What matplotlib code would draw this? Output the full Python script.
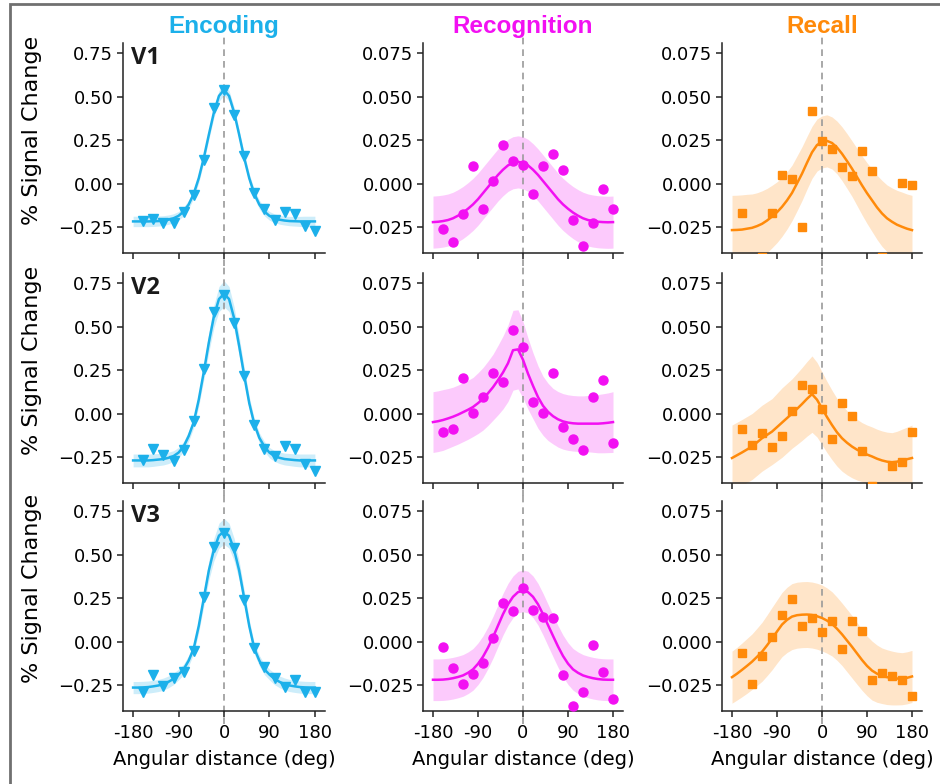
import matplotlib
matplotlib.use("Agg")
import matplotlib.pyplot as plt
from matplotlib.patches import Rectangle

# angular bins of the data points and the grid the fits / bands were read on
X_PTS = [-160, -140, -120, -100, -80, -60, -40, -20, 0, 20, 40, 60, 80, 100, 120, 140, 160, 180]
X_FIT = list(range(-180, 181, 10))

CONDITIONS = ["Encoding", "Recognition", "Recall"]
AREAS = ["V1", "V2", "V3"]
COLORS = ["#1CB0EA", "#F210F2", "#FF8A0A"]
MARKERS = ["v", "o", "s"]
XTICKS = [-180, -90, 0, 90, 180]
XTICKLABELS = ["-180", "-90", "0", "90", "180"]

# ---- Encoding ----
ENC_V1_PTS = [-0.215, -0.205, -0.230, -0.226, -0.165, -0.067, 0.138, 0.437, 0.540, 0.393,
              0.157, -0.052, -0.144, -0.211, -0.165, -0.176, -0.243, -0.272]
ENC_V1_FIT = [-0.218, -0.218, -0.218, -0.218, -0.217, -0.216, -0.213, -0.208, -0.200, -0.186,
              -0.161, -0.121, -0.059, 0.031, 0.148, 0.282, 0.410, 0.505, 0.540, 0.505,
              0.410, 0.282, 0.148, 0.031, -0.059, -0.121, -0.161, -0.186, -0.200, -0.208,
              -0.213, -0.216, -0.217, -0.218, -0.218, -0.218, -0.218]
ENC_V1_HW = [0.030, 0.030, 0.030, 0.030, 0.030, 0.029, 0.028, 0.027, 0.026, 0.025,
             0.025, 0.025, 0.025, 0.026, 0.027, 0.028, 0.030, 0.031, 0.032, 0.031,
             0.030, 0.028, 0.027, 0.026, 0.025, 0.025, 0.025, 0.025, 0.025, 0.026,
             0.026, 0.027, 0.028, 0.029, 0.030, 0.030, 0.030]

ENC_V2_PTS = [-0.269, -0.203, -0.241, -0.273, -0.212, -0.042, 0.254, 0.584, 0.684, 0.524,
              0.216, -0.067, -0.203, -0.244, -0.188, -0.203, -0.293, -0.331]
ENC_V2_FIT = [-0.270, -0.270, -0.270, -0.270, -0.268, -0.265, -0.262, -0.255, -0.245, -0.225,
              -0.190, -0.130, -0.050, 0.080, 0.240, 0.410, 0.560, 0.660, 0.690, 0.660,
              0.550, 0.390, 0.220, 0.060, -0.060, -0.140, -0.190, -0.225, -0.245, -0.255,
              -0.262, -0.265, -0.268, -0.270, -0.270, -0.270, -0.270]
ENC_V2_HW = [0.037, 0.037, 0.037, 0.037, 0.036, 0.035, 0.034, 0.033, 0.031, 0.030,
             0.029, 0.029, 0.031, 0.037, 0.045, 0.055, 0.065, 0.072, 0.075, 0.072,
             0.065, 0.055, 0.045, 0.037, 0.031, 0.029, 0.029, 0.030, 0.031, 0.033,
             0.034, 0.035, 0.036, 0.037, 0.037, 0.037, 0.037]

ENC_V3_PTS = [-0.290, -0.190, -0.256, -0.212, -0.176, -0.057, 0.258, 0.544, 0.627, 0.538,
              0.240, -0.038, -0.146, -0.208, -0.259, -0.223, -0.290, -0.290]
ENC_V3_FIT = [-0.265, -0.265, -0.264, -0.262, -0.258, -0.253, -0.245, -0.232, -0.215, -0.190,
              -0.160, -0.110, -0.040, 0.090, 0.250, 0.410, 0.530, 0.610, 0.635, 0.610,
              0.530, 0.410, 0.250, 0.090, -0.040, -0.110, -0.160, -0.190, -0.215, -0.232,
              -0.245, -0.253, -0.258, -0.262, -0.264, -0.265, -0.265]
ENC_V3_HW = [0.035, 0.035, 0.035, 0.035, 0.035, 0.035, 0.035, 0.034, 0.033, 0.031,
             0.030, 0.030, 0.030, 0.036, 0.045, 0.055, 0.065, 0.072, 0.075, 0.072,
             0.065, 0.055, 0.045, 0.036, 0.030, 0.030, 0.030, 0.031, 0.033, 0.034,
             0.035, 0.035, 0.035, 0.035, 0.035, 0.035, 0.035]

# ---- Recognition ----
REC_V1_PTS = [-0.0264, -0.0339, -0.0178, 0.0102, -0.0144, 0.0013, 0.0224, 0.0128, 0.0105, -0.0061,
              0.0100, 0.0169, 0.0077, -0.0211, -0.0358, -0.0226, -0.0034, -0.0149]
REC_V1_FIT = [-0.0222, -0.0220, -0.0216, -0.0210, -0.0200, -0.0185, -0.0167, -0.0145, -0.0120, -0.0090,
              -0.0055, -0.0020, 0.0015, 0.0050, 0.0080, 0.0105, 0.0120, 0.0125, 0.0120, 0.0105,
              0.0080, 0.0050, 0.0015, -0.0020, -0.0055, -0.0090, -0.0120, -0.0145, -0.0167, -0.0185,
              -0.0200, -0.0210, -0.0216, -0.0220, -0.0222, -0.0223, -0.0222]
REC_V1_HW = [0.015] * 37

REC_V2_PTS = [-0.0108, -0.0091, 0.0205, 0.0006, 0.0095, 0.0231, 0.0184, 0.0482, 0.0385, 0.0066,
              0.0006, 0.0233, -0.0080, -0.0148, -0.0209, 0.0095, 0.0194, -0.0171]
REC_V2_FIT = [-0.0049, -0.0044, -0.0037, -0.0028, -0.0018, -0.0006, 0.0008, 0.0022, 0.0038, 0.0060,
              0.0085, 0.0117, 0.0152, 0.0193, 0.0237, 0.0290, 0.0365, 0.0370, 0.0310, 0.0230,
              0.0160, 0.0095, 0.0045, 0.0010, -0.0015, -0.0033, -0.0045, -0.0052, -0.0056, -0.0058,
              -0.0058, -0.0058, -0.0058, -0.0058, -0.0056, -0.0053, -0.0049]
REC_V2_HW = [0.0175, 0.0175, 0.0175, 0.0172, 0.0170, 0.0170, 0.0170, 0.0170, 0.0170, 0.0175,
             0.0180, 0.0185, 0.0190, 0.0200, 0.0210, 0.0220, 0.0230, 0.0228, 0.0220, 0.0205,
             0.0190, 0.0180, 0.0170, 0.0165, 0.0160, 0.0160, 0.0160, 0.0160, 0.0160, 0.0160,
             0.0160, 0.0162, 0.0165, 0.0168, 0.0170, 0.0172, 0.0175]

REC_V3_PTS = [-0.0030, -0.0153, -0.0244, -0.0186, -0.0121, 0.0021, 0.0220, 0.0174, 0.0307, 0.0184,
              0.0144, 0.0136, -0.0195, -0.0371, -0.0288, -0.0019, -0.0178, -0.0333]
REC_V3_FIT = [-0.0220, -0.0220, -0.0219, -0.0216, -0.0211, -0.0204, -0.0195, -0.0180, -0.0160, -0.0128,
              -0.0087, -0.0035, 0.0025, 0.0092, 0.0158, 0.0215, 0.0258, 0.0285, 0.0292, 0.0285,
              0.0258, 0.0215, 0.0158, 0.0095, 0.0033, -0.0028, -0.0083, -0.0127, -0.0160, -0.0180,
              -0.0195, -0.0204, -0.0211, -0.0216, -0.0219, -0.0220, -0.0220]
REC_V3_HW = [0.012] * 37

# ---- Recall ----
RCL_V1_PTS = [-0.0167, -0.0480, -0.0425, -0.0167, 0.0052, 0.0027, -0.0253, 0.0421, 0.0243, 0.0201,
              0.0096, 0.0044, 0.0186, 0.0071, -0.0425, -0.0500, 0.0004, -0.0011]
RCL_V1_FIT = [-0.0268, -0.0267, -0.0265, -0.0260, -0.0255, -0.0245, -0.0232, -0.0213, -0.0190, -0.0165,
              -0.0134, -0.0097, -0.0054, 0.0001, 0.0057, 0.0120, 0.0180, 0.0222, 0.0240, 0.0246,
              0.0234, 0.0208, 0.0172, 0.0130, 0.0086, 0.0038, -0.0010, -0.0055, -0.0096, -0.0137,
              -0.0172, -0.0200, -0.0220, -0.0237, -0.0249, -0.0260, -0.0268]
RCL_V1_HW = [0.0200, 0.0200, 0.0200, 0.0198, 0.0195, 0.0192, 0.0190, 0.0185, 0.0180, 0.0175,
             0.0170, 0.0165, 0.0160, 0.0158, 0.0155, 0.0152, 0.0150, 0.0150, 0.0150, 0.0150,
             0.0150, 0.0152, 0.0155, 0.0158, 0.0160, 0.0165, 0.0170, 0.0175, 0.0180, 0.0185,
             0.0190, 0.0192, 0.0195, 0.0198, 0.0200, 0.0200, 0.0200]

RCL_V2_PTS = [-0.0089, -0.0180, -0.0112, -0.0195, -0.0127, 0.0015, 0.0167, 0.0142, 0.0025, -0.0146,
              0.0063, -0.0013, -0.0218, -0.0415, -0.0500, -0.0304, -0.0277, -0.0108]
RCL_V2_FIT = [-0.0256, -0.0240, -0.0224, -0.0207, -0.0190, -0.0166, -0.0142, -0.0123, -0.0104, -0.0078,
              -0.0052, -0.0026, 0.0000, 0.0027, 0.0055, 0.0085, 0.0112, 0.0080, 0.0030, -0.0020,
              -0.0066, -0.0108, -0.0142, -0.0168, -0.0190, -0.0208, -0.0222, -0.0236, -0.0247, -0.0260,
              -0.0270, -0.0277, -0.0280, -0.0277, -0.0270, -0.0263, -0.0256]
RCL_V2_HW = [0.0190, 0.0190, 0.0190, 0.0190, 0.0190, 0.0190, 0.0190, 0.0190, 0.0190, 0.0195,
             0.0200, 0.0200, 0.0200, 0.0205, 0.0210, 0.0215, 0.0220, 0.0215, 0.0210, 0.0205,
             0.0200, 0.0195, 0.0190, 0.0185, 0.0180, 0.0175, 0.0170, 0.0170, 0.0170, 0.0170,
             0.0170, 0.0170, 0.0170, 0.0175, 0.0180, 0.0185, 0.0190]

RCL_V3_PTS = [-0.0064, -0.0246, -0.0083, 0.0027, 0.0153, 0.0244, 0.0087, 0.0136, 0.0055, 0.0116,
              -0.0045, 0.0121, 0.0063, -0.0220, -0.0182, -0.0197, -0.0223, -0.0314]
RCL_V3_FIT = [-0.0205, -0.0185, -0.0163, -0.0140, -0.0116, -0.0088, -0.0059, -0.0022, 0.0017, 0.0058,
              0.0098, 0.0125, 0.0144, 0.0152, 0.0155, 0.0156, 0.0153, 0.0146, 0.0136, 0.0121,
              0.0102, 0.0074, 0.0042, 0.0006, -0.0030, -0.0068, -0.0106, -0.0140, -0.0167, -0.0185,
              -0.0197, -0.0205, -0.0210, -0.0213, -0.0214, -0.0209, -0.0201]
RCL_V3_HW = [0.0150, 0.0152, 0.0155, 0.0158, 0.0160, 0.0165, 0.0170, 0.0175, 0.0180, 0.0182,
             0.0185, 0.0188, 0.0190, 0.0190, 0.0190, 0.0190, 0.0190, 0.0190, 0.0190, 0.0188,
             0.0185, 0.0182, 0.0180, 0.0180, 0.0180, 0.0178, 0.0175, 0.0172, 0.0170, 0.0165,
             0.0160, 0.0158, 0.0155, 0.0152, 0.0150, 0.0150, 0.0150]

PANELS = [
    [(ENC_V1_PTS, ENC_V1_FIT, ENC_V1_HW), (REC_V1_PTS, REC_V1_FIT, REC_V1_HW), (RCL_V1_PTS, RCL_V1_FIT, RCL_V1_HW)],
    [(ENC_V2_PTS, ENC_V2_FIT, ENC_V2_HW), (REC_V2_PTS, REC_V2_FIT, REC_V2_HW), (RCL_V2_PTS, RCL_V2_FIT, RCL_V2_HW)],
    [(ENC_V3_PTS, ENC_V3_FIT, ENC_V3_HW), (REC_V3_PTS, REC_V3_FIT, REC_V3_HW), (RCL_V3_PTS, RCL_V3_FIT, RCL_V3_HW)],
]

YLIMS = [(-0.40, 0.81), (-0.040, 0.081), (-0.040, 0.081)]
YTICKS = [[-0.25, 0.0, 0.25, 0.5, 0.75], [-0.025, 0.0, 0.025, 0.05, 0.075], [-0.025, 0.0, 0.025, 0.05, 0.075]]
YFMT = ["{:.2f}", "{:.3f}", "{:.3f}"]

plt.rcParams["font.family"] = ["DejaVu Sans"]
plt.rcParams["axes.unicode_minus"] = True

W, H = 940, 784
fig = plt.figure(figsize=(W / 100, H / 100), dpi=100)

col_left = [123, 423, 722]
col_width = [202, 200, 200]
row_top = [43, 273, 501]
row_h = 210

for r in range(3):
    for c in range(3):
        pts, fit, hw = PANELS[r][c]
        ax = fig.add_axes([col_left[c] / W, 1 - (row_top[r] + row_h) / H, col_width[c] / W, row_h / H])
        color = COLORS[c]

        lower = [f - h for f, h in zip(fit, hw)]
        upper = [f + h for f, h in zip(fit, hw)]
        ax.fill_between(X_FIT, lower, upper, color=color, alpha=0.22, lw=0)
        ax.plot(X_FIT, fit, color=color, lw=1.8, zorder=3)
        ax.plot(X_PTS, pts, ls="none", marker=MARKERS[c], color=color,
                ms=6.5 if MARKERS[c] != "s" else 5.8, zorder=4)
        ax.axvline(0, ymin=-0.06, ymax=1.03, color="#9a9a9a", ls=(0, (4, 3)), lw=1.2,
                   clip_on=False, zorder=1)

        ax.set_xlim(-200, 200)
        ax.set_ylim(*YLIMS[c])
        ax.set_xticks(XTICKS)
        ax.set_yticks(YTICKS[c])
        ax.set_yticklabels([YFMT[c].format(v).replace("-", "\u2212") for v in YTICKS[c]])
        if r == 2:
            ax.set_xticklabels(XTICKLABELS)
            ax.set_xlabel("Angular distance (deg)", fontsize=14, labelpad=6)
        else:
            ax.set_xticklabels([])

        for side in ["top", "right"]:
            ax.spines[side].set_visible(False)
        for side in ["left", "bottom"]:
            ax.spines[side].set_linewidth(1.1)
            ax.spines[side].set_color("#222222")
        ax.tick_params(labelsize=13, length=4, width=1.1, color="#222222", pad=3)
        ax.tick_params(axis="x", pad=5)

        if c == 0:
            ax.set_ylabel("% Signal Change", fontsize=16)
            ax.yaxis.set_label_coords(-0.40, 0.585)
            ax.text(0.04, 0.93, AREAS[r], transform=ax.transAxes, fontsize=17,
                    fontweight="bold", family="Open Sans", ha="left", va="center", color="#1a1a1a")
        if r == 0:
            ax.set_title(CONDITIONS[c], color=color, fontsize=17.5, fontweight="bold",
                         family="Liberation Sans", pad=7)

# grey frame of the original figure panel
fig.patches.append(Rectangle((10 / W, -0.05), 1.2, 1 - 4 / H + 0.05, transform=fig.transFigure,
                             fill=False, edgecolor="#707070", lw=2))

fig.savefig("out.png", dpi=100, facecolor="white")
